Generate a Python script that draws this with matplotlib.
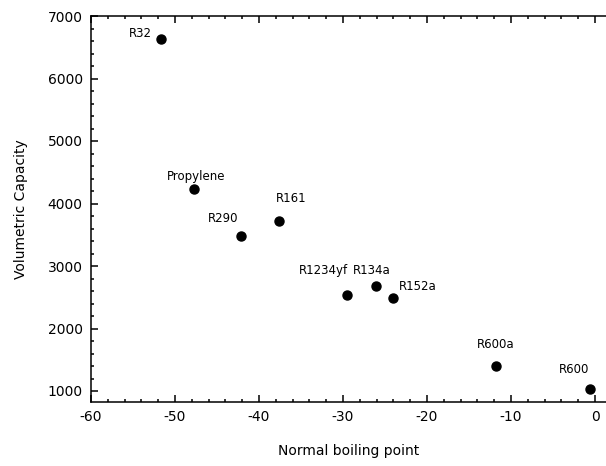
import matplotlib
matplotlib.use("Agg")
import matplotlib.pyplot as plt
from matplotlib.ticker import MultipleLocator

plt.rcParams["font.family"] = ["DejaVu Sans"]
plt.rcParams["axes.unicode_minus"] = False

# refrigerants: normal boiling point vs volumetric capacity
names = ["R32", "Propylene", "R290", "R161", "R1234yf", "R134a", "R152a", "R600a", "R600"]
boiling_point = [-51.7, -47.7, -42.1, -37.6, -29.5, -26.1, -24.0, -11.8, -0.6]
vol_capacity = [6630, 4230, 3480, 3720, 2540, 2680, 2490, 1400, 1030]

# label offsets in pixels (dx, dy) and alignment
label_pos = {
    "R32": (-9, 6, "right"),
    "Propylene": (2, 13, "center"),
    "R290": (-3, 18, "right"),
    "R161": (-3, 22, "left"),
    "R1234yf": (1, 24, "right"),
    "R134a": (-23, 16, "left"),
    "R152a": (5, 11, "left"),
    "R600a": (0, 22, "center"),
    "R600": (-16, 20, "center"),
}

fig = plt.figure(figsize=(6.06, 4.66), dpi=100)
ax = fig.add_axes([91 / 606, 64 / 466, 515 / 606, 386 / 466])

ax.plot(boiling_point, vol_capacity, "o", color="black", markersize=6.5, linestyle="none")

for name, x, y in zip(names, boiling_point, vol_capacity):
    dx, dy, ha = label_pos[name]
    ax.annotate(name, (x, y), xytext=(dx, dy), textcoords="offset pixels",
                ha=ha, va="center", fontsize=8.5)

ax.set_xlim(-60, 1.3)
ax.set_ylim(824, 7000)
ax.xaxis.set_major_locator(MultipleLocator(10))
ax.xaxis.set_minor_locator(MultipleLocator(2))
ax.yaxis.set_major_locator(MultipleLocator(1000))
ax.yaxis.set_minor_locator(MultipleLocator(200))

ax.spines["right"].set_visible(False)
for s in ["left", "bottom", "top"]:
    ax.spines[s].set_linewidth(1.1)

ax.tick_params(which="both", direction="in", top=True, right=False, width=1.1)
ax.tick_params(which="major", length=5, labelsize=10, pad=6)
ax.tick_params(which="minor", length=2.5)

ax.set_xlabel("Normal boiling point", fontsize=10, labelpad=14)
ax.set_ylabel("Volumetric Capacity", fontsize=10, labelpad=14)

fig.savefig("out.png", dpi=100)
